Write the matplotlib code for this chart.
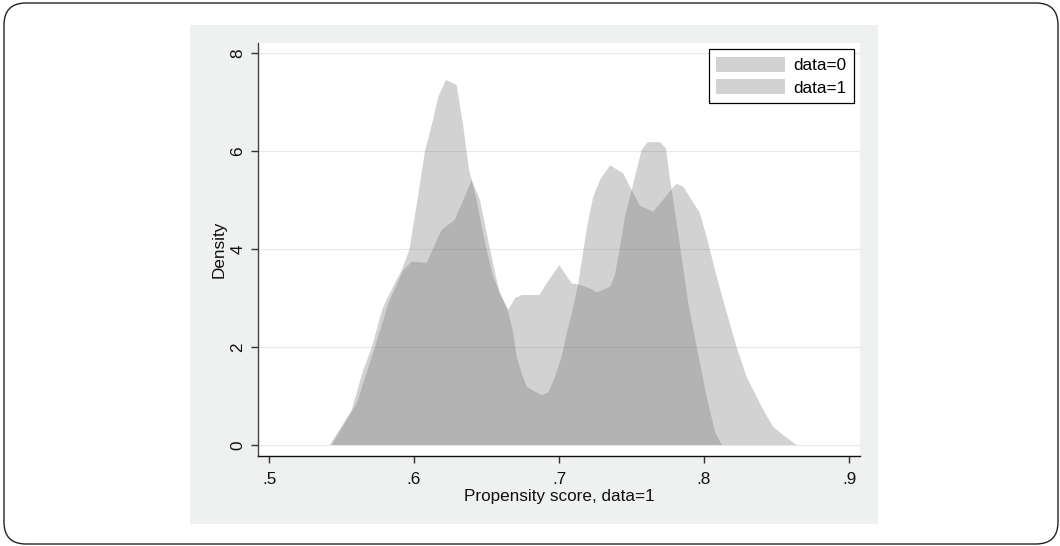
import matplotlib
matplotlib.use("Agg")
import matplotlib.pyplot as plt
from matplotlib.patches import Rectangle, FancyBboxPatch
from matplotlib.transforms import IdentityTransform

plt.rcParams['font.family'] = ['Liberation Sans', 'DejaVu Sans']

# data=0 density
x0 = [0.542, 0.557, 0.565, 0.571, 0.578, 0.581, 0.5915, 0.5968, 0.602, 0.6076,
      0.612, 0.6168, 0.622, 0.6294, 0.634, 0.638, 0.6398, 0.6432, 0.6467, 0.6501,
      0.6547, 0.6605, 0.665, 0.6685, 0.6708, 0.6743, 0.6777, 0.6834, 0.6881, 0.6926,
      0.6972, 0.7018, 0.7053, 0.7099, 0.7133, 0.7168, 0.7202, 0.7237, 0.7283, 0.7352,
      0.7444, 0.7501, 0.757, 0.7611, 0.7697, 0.7738, 0.7766, 0.7812, 0.7846, 0.7892,
      0.795, 0.8018, 0.8076, 0.8122]
y0 = [0.0, 0.71, 1.53, 2.0, 2.76, 2.96, 3.57, 3.98, 4.93, 6.0,
      6.5, 7.11, 7.45, 7.35, 6.5, 5.61, 5.41, 5.0, 4.46, 3.98,
      3.43, 3.03, 2.72, 2.28, 1.8, 1.46, 1.19, 1.09, 1.02, 1.07,
      1.39, 1.8, 2.28, 2.82, 3.3, 3.98, 4.59, 5.07, 5.41, 5.71,
      5.54, 5.2, 6.02, 6.18, 6.18, 6.05, 5.41, 4.52, 3.84, 2.89,
      2.0, 0.99, 0.27, 0.0]

# data=1 density
x1 = [0.5432, 0.5605, 0.5731, 0.5823, 0.5926, 0.5984, 0.6087, 0.619, 0.628, 0.633,
      0.6398, 0.6455, 0.6524, 0.659, 0.665, 0.6697, 0.6743, 0.6865, 0.6915, 0.7002,
      0.7064, 0.7088, 0.7145, 0.7225, 0.726, 0.7352, 0.7386, 0.7421, 0.7455, 0.7501,
      0.7559, 0.7651, 0.779, 0.7812, 0.7857, 0.7915, 0.7972, 0.8018, 0.8076, 0.8145,
      0.8225, 0.8294, 0.8352, 0.841, 0.8478, 0.8547, 0.8639]
y1 = [0.0, 0.85, 2.0, 2.89, 3.57, 3.74, 3.72, 4.39, 4.59, 4.93,
      5.41, 5.0, 4.0, 3.1, 2.76, 3.0, 3.06, 3.06, 3.3, 3.67,
      3.4, 3.3, 3.27, 3.18, 3.11, 3.23, 3.47, 4.05, 4.66, 5.2,
      4.88, 4.76, 5.27, 5.33, 5.27, 5.0, 4.73, 4.25, 3.57, 2.82,
      2.0, 1.39, 1.05, 0.71, 0.37, 0.2, 0.0]

labels = ['data=0', 'data=1']
xticks = [0.5, 0.6, 0.7, 0.8, 0.9]
xticklabels = ['.5', '.6', '.7', '.8', '.9']
yticks = [0, 2, 4, 6, 8]
yticklabels = ['0', '2', '4', '6', '8']

W, H = 1060, 546
fig = plt.figure(figsize=(W / 100, H / 100), dpi=100)
fig.patch.set_facecolor('white')

# outer rounded frame
frame = FancyBboxPatch((4, 2), 1054, 541, boxstyle="round,pad=0,rounding_size=22",
                       transform=IdentityTransform(), facecolor='none',
                       edgecolor='#222222', linewidth=1.0, zorder=-10)
fig.patches.append(frame)

# graph region panel
panel = Rectangle((190 / W, (H - 524) / H), 688 / W, 499 / H, transform=fig.transFigure,
                  facecolor='#eff0f0', edgecolor='none', zorder=-10)
fig.patches.append(panel)

ax = fig.add_axes([258 / W, (H - 456) / H, 602 / W, 413 / H])
ax.set_zorder(5)
ax.set_facecolor('white')

fcol = '#6c6c6c'
ax.fill_between(x0, 0, y0, facecolor=fcol, alpha=0.3, linewidth=0, edgecolor='none',
                label=labels[0], zorder=2)
ax.fill_between(x1, 0, y1, facecolor=fcol, alpha=0.3, linewidth=0, edgecolor='none',
                label=labels[1], zorder=2)

ax.set_xlim(0.5 - 11 / 1450, 0.9 + 11 / 1450)
ax.set_ylim(-11 / 49, 8 + 10 / 49)

ax.set_xticks(xticks)
ax.set_xticklabels(xticklabels)
ax.set_yticks(yticks)
ax.set_yticklabels(yticklabels, rotation=90, va='center')

ax.grid(axis='y', color='#e8e8e8', linewidth=0.8, zorder=1)
ax.set_axisbelow(True)

for s in ['top', 'right']:
    ax.spines[s].set_visible(False)
ax.spines['left'].set_color('#444444')
ax.spines['bottom'].set_color('#111111')
ax.spines['left'].set_linewidth(1.0)
ax.spines['bottom'].set_linewidth(1.0)

ax.tick_params(axis='both', direction='out', length=5, width=1.0, color='#333333',
               labelsize=12.3, labelcolor='#111111')
ax.tick_params(axis='x', pad=6.5)
ax.tick_params(axis='y', pad=4)

ax.set_xlabel('Propensity score, data=1', fontsize=12.3, color='#111111', labelpad=1.5)
ax.set_ylabel('Density', fontsize=12.3, color='#111111', labelpad=3)

leg = ax.legend(loc='upper right', bbox_to_anchor=(596 / 602, (456 - 49) / 413),
                borderaxespad=0, fancybox=False, frameon=True, fontsize=12.3,
                handlelength=4.0, handleheight=1.0, handletextpad=0.5,
                labelspacing=0.35, borderpad=0.45)
leg.get_frame().set_edgecolor('black')
leg.get_frame().set_linewidth(0.9)
leg.get_frame().set_facecolor('white')
leg.get_frame().set_alpha(1.0)

fig.savefig('out.png', dpi=100, facecolor='white')
